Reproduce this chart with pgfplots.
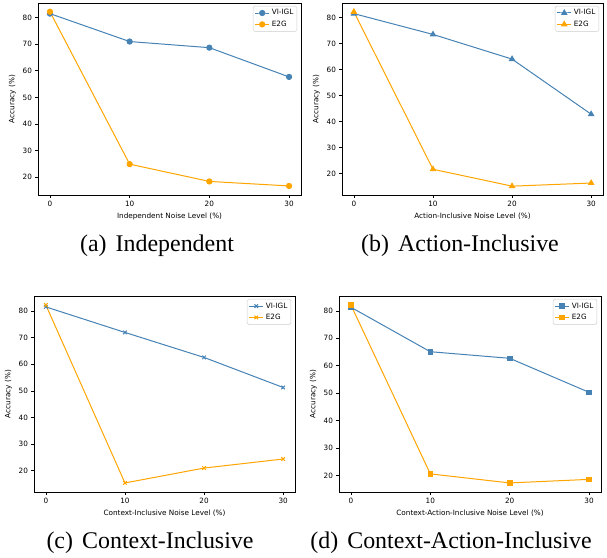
\documentclass[border=0pt]{standalone}
\usepackage{fontspec}
\setmainfont{Liberation Serif}
\newfontfamily\plotfont{DejaVu Sans}
\usepackage{pgfplots}
\pgfplotsset{compat=1.18}
\definecolor{vblue}{RGB}{70,130,180}
\definecolor{eorange}{RGB}{255,165,0}
\newcommand{\pf}{\plotfont\fontsize{7.3}{8.8}\selectfont}
\pgfplotsset{
 mystyle/.style={
  scale only axis, anchor=south west,
  xmin=-1.5, xmax=31.5, xtick={0,10,20,30}, ytick={20,30,...,80},
  tick align=outside, xtick pos=left, ytick pos=left,
  major tick length=2.6bp, tick style={black, line width=0.6bp},
  axis line style={line width=0.6bp},
  ticklabel style={font=\pf},
  label style={font=\pf},
  /pgf/number format/assume math mode=true,
  ylabel={Accuracy (\%)},
  legend style={at={(0.985,0.985)}, anchor=north east, draw=black!20,
    rounded corners=1.5bp, font=\pf, inner sep=1.5bp, row sep=0.5bp},
  legend cell align=left,
  legend image code/.code={\draw[mark repeat=2,mark phase=2,##1] plot coordinates {(0cm,0cm)(0.25cm,0cm)(0.5cm,0cm)};},
 },
 vi/.style={color=vblue, line width=1.0bp, mark options={solid}},
 eg/.style={color=eorange, line width=1.0bp, mark options={solid}},
}
\begin{document}
\begin{tikzpicture}[x=1bp,y=1bp]
\useasboundingbox (0,0) rectangle (607,558);
% (a)
\begin{axis}[mystyle, at={(38bp,363bp)}, width=263bp, height=192bp,
  ymin=13.3, ymax=85.5, xlabel={Independent Noise Level (\%)}]
\addplot[vi, mark=*, mark size=2.6bp] coordinates {(0,81.5) (10,71.0) (20,68.7) (30,57.7)};
\addplot[eg, mark=*, mark size=2.6bp] coordinates {(0,82.2) (10,24.9) (20,18.4) (30,16.7)};
\legend{VI-IGL,E2G}
\end{axis}
% (b)
\begin{axis}[mystyle, at={(342bp,363bp)}, width=261bp, height=192bp,
  ymin=11.7, ymax=85.6, xlabel={Action-Inclusive Noise Level (\%)}]
\addplot[vi, mark=triangle*, mark size=2.9bp] coordinates {(0,81.5) (10,73.5) (20,64.0) (30,42.8)};
\addplot[eg, mark=triangle*, mark size=2.9bp] coordinates {(0,82.2) (10,21.6) (20,15.1) (30,16.3)};
\legend{VI-IGL,E2G}
\end{axis}
% (c)
\begin{axis}[mystyle, at={(34bp,66bp)}, width=261bp, height=196bp,
  ymin=12.0, ymax=85.7, xlabel={Context-Inclusive Noise Level (\%)}]
\addplot[vi, mark=x, mark size=2.5bp] coordinates {(0,81.6) (10,72.0) (20,62.6) (30,51.3)};
\addplot[eg, mark=x, mark size=2.5bp] coordinates {(0,82.3) (10,15.4) (20,21.0) (30,24.4)};
\legend{VI-IGL,E2G}
\end{axis}
% (d)
\begin{axis}[mystyle, at={(339bp,66bp)}, width=262bp, height=196bp,
  ymin=14.0, ymax=85.4, xlabel={Context-Action-Inclusive Noise Level (\%)}]
\addplot[vi, mark=square*, mark size=2.3bp] coordinates {(0,81.3) (10,65.1) (20,62.7) (30,50.3)};
\addplot[eg, mark=square*, mark size=2.3bp] coordinates {(0,82.1) (10,20.6) (20,17.3) (30,18.6)};
\legend{VI-IGL,E2G}
\end{axis}
\node[font=\fontsize{24}{28}\selectfont] at (157,312) {(a)\hspace{0.38em}Independent};
\node[font=\fontsize{24}{28}\selectfont] at (460,312) {(b)\hspace{0.38em}Action-Inclusive};
\node[font=\fontsize{24}{28}\selectfont] at (150,15) {(c)\hspace{0.38em}Context-Inclusive};
\node[font=\fontsize{24}{28}\selectfont] at (451,15) {(d)\hspace{0.38em}Context-Action-Inclusive};
\end{tikzpicture}
\end{document}
